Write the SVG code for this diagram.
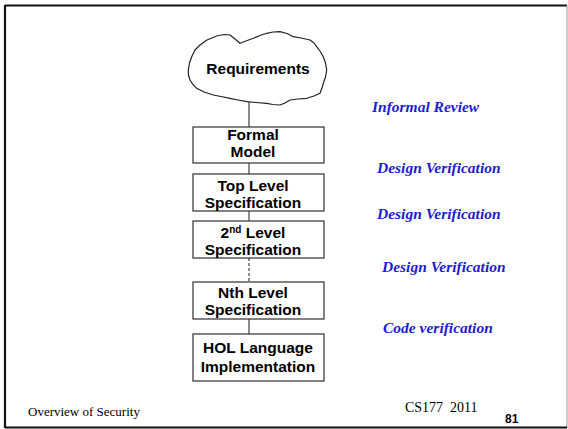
<svg xmlns="http://www.w3.org/2000/svg" width="568" height="429" viewBox="0 0 568 429">
<style>
.box{fill:#fff;stroke:#404040;stroke-width:1.3}
.bt{font-family:"Liberation Sans",Arial,sans-serif;font-weight:bold;font-size:15.5px;fill:#000;text-anchor:middle}
.lbl{font-family:"Liberation Serif","Times New Roman",serif;font-weight:bold;font-style:italic;font-size:15.5px;fill:#1c1cd0}
.ft{font-family:"Liberation Serif","Times New Roman",serif;fill:#000}
.conn{stroke:#404040;stroke-width:1.2;fill:none}
</style>
<rect x="0" y="0" width="568" height="429" fill="#fff"/>
<path d="M5 5.5 H567" stroke="#111" stroke-width="2.2"/>
<path d="M5 5 V428" stroke="#111" stroke-width="2.2"/>
<path d="M567 5 V428" stroke="#999" stroke-width="1"/>
<path d="M5 427.5 H567" stroke="#111" stroke-width="2.2"/>
<g id="connectors">
<line class="conn" x1="249" y1="102" x2="249" y2="127"/>
<line class="conn" x1="249" y1="163" x2="249" y2="174"/>
<line class="conn" x1="249" y1="211" x2="249" y2="221"/>
<line class="conn" x1="249" y1="258" x2="249" y2="282" stroke-dasharray="3,2"/>
<line class="conn" x1="249" y1="319" x2="249" y2="334"/>
</g>
<g id="requirements">
<path d="M200 45 L207 40 L216.7 36 L224 34.5 L230 35 L235 39 L240 43.3 L246 41 L253.3 38.3 L260 35.5 L266.7 33.3 L273 32 L280 31.7 L287 33.5 L293.3 36.7 L301 38 L310 40 L314 43 L316.7 46.7 L320 51 L323.3 56.7 L325.5 63 L326.7 70 L325.5 77 L323.3 83.3 L322 88 L320 93.3 L314 96 L306.7 98.3 L298 99 L290 100 L285 103 L280 105 L273 104.5 L266.7 103.3 L256 102.5 L246.7 101.7 L238 100 L230 98.3 L221 96.5 L213.3 95 L204 92 L196.7 88.3 L192.5 84 L190 80 L188.5 75 L188.3 70 L189.5 63 L191.7 56.7 L195 50 Z" fill="#fff" stroke="#222" stroke-width="1.2" stroke-linejoin="round"/>
<text class="bt" x="258" y="74">Requirements</text>
</g>
<g id="formal-model">
<rect class="box" x="193" y="127" width="131" height="36"/>
<text class="bt" x="253" y="140">Formal</text>
<text class="bt" x="253" y="157">Model</text>
</g>
<g id="top-level">
<rect class="box" x="193" y="174" width="131" height="37"/>
<text class="bt" x="253" y="191">Top Level</text>
<text class="bt" x="253" y="208">Specification</text>
</g>
<g id="second-level">
<rect class="box" x="193" y="221" width="131" height="37"/>
<text class="bt" x="253" y="238">2<tspan font-size="10px" dy="-5">nd</tspan><tspan dy="5"> Level</tspan></text>
<text class="bt" x="253" y="255">Specification</text>
</g>
<g id="nth-level">
<rect class="box" x="193" y="282" width="131" height="37"/>
<text class="bt" x="253" y="298">Nth Level</text>
<text class="bt" x="253" y="315">Specification</text>
</g>
<g id="hol">
<rect class="box" x="193" y="334" width="131" height="47"/>
<text class="bt" x="258" y="353">HOL Language</text>
<text class="bt" x="258" y="372">Implementation</text>
</g>
<g id="labels">
<text class="lbl" x="372" y="112">Informal Review</text>
<text class="lbl" x="377" y="173">Design Verification</text>
<text class="lbl" x="377" y="219">Design Verification</text>
<text class="lbl" x="382" y="272">Design Verification</text>
<text class="lbl" x="383" y="333">Code verification</text>
</g>
<text class="ft" x="28" y="416" font-size="13px">Overview of Security</text>
<text class="ft" x="405" y="412" font-size="14px" xml:space="preserve">CS177  2011</text>
<text x="505" y="423" font-family="Liberation Sans,Arial,sans-serif" font-weight="bold" font-size="12px" fill="#000">81</text>
</svg>
